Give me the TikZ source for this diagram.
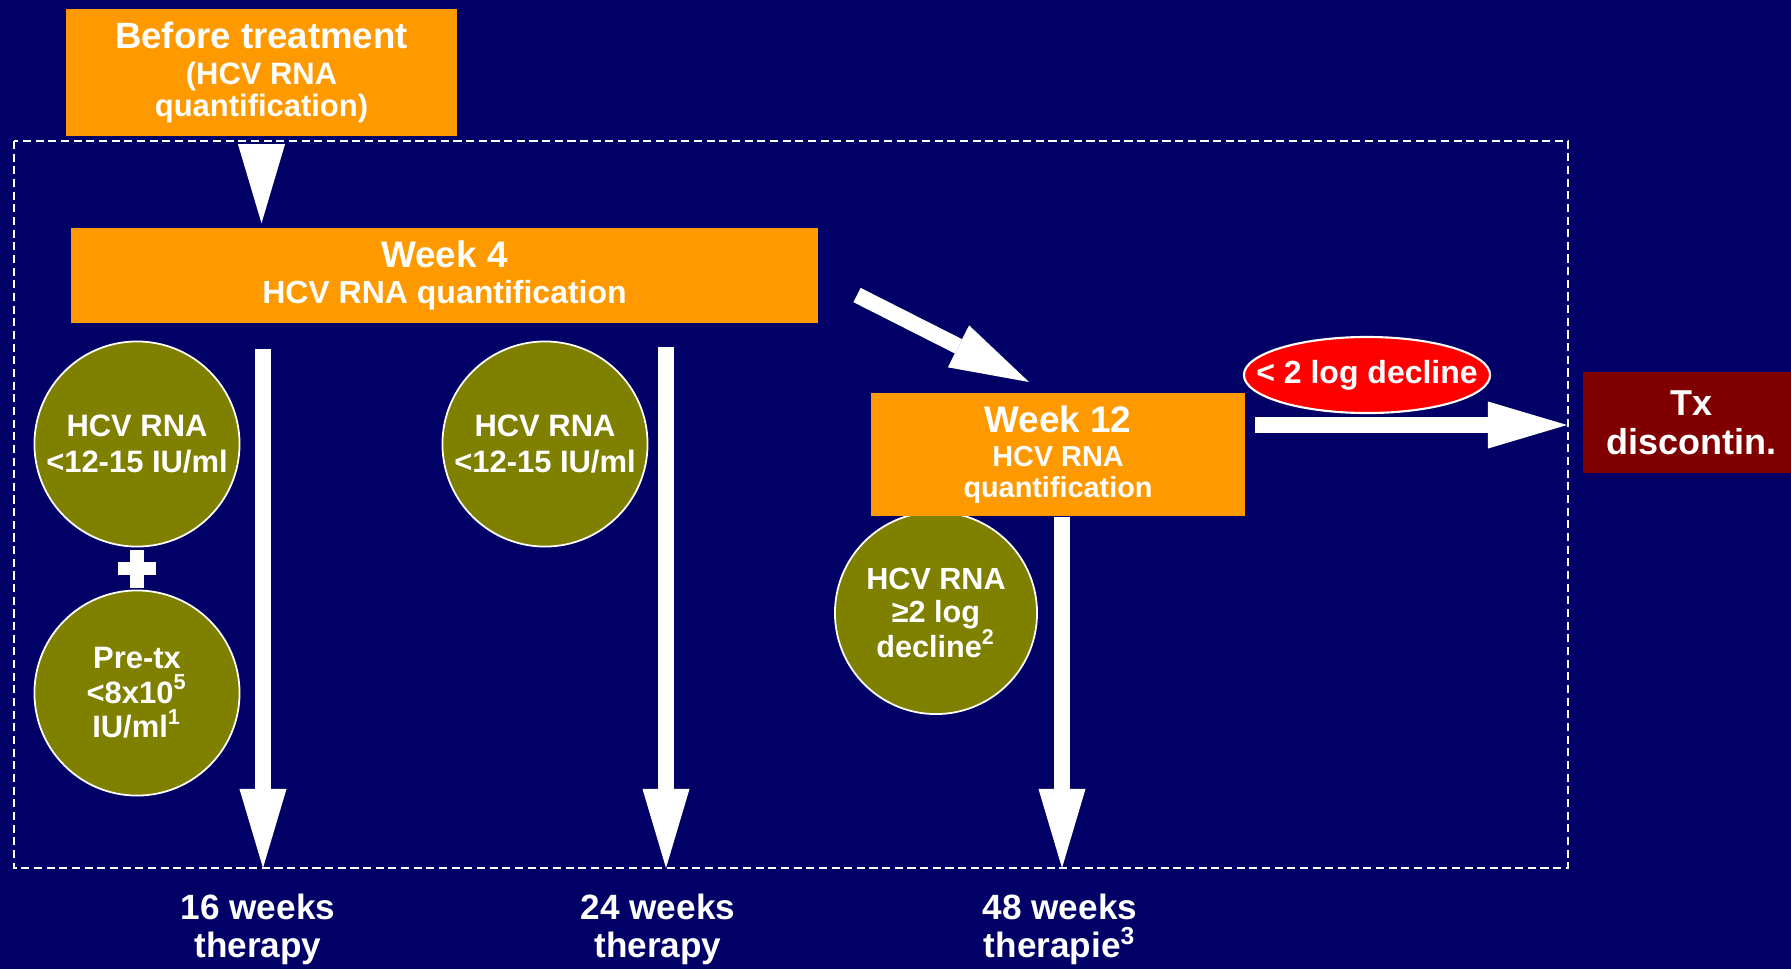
\documentclass[tikz,border=0pt]{standalone}
\usepackage{fontspec}
\setmainfont{Liberation Sans}
\usepackage{tikz}
\usetikzlibrary{arrows.meta, positioning, calc, shapes.geometric}

\definecolor{slidebg}{RGB}{0,0,102}
\definecolor{boxorange}{RGB}{255,153,0}
\definecolor{critolive}{RGB}{128,128,0}
\definecolor{declred}{RGB}{255,0,0}
\definecolor{stopred}{RGB}{128,0,0}

\newcommand{\fsz}[2]{\fontsize{#1}{#2}\selectfont}

\begin{document}
\begin{tikzpicture}[
  x=0.01cm, y=-0.01cm,
  % Node styles
  stage/.style   = {rectangle, fill=boxorange, text=white, align=center,
                    inner sep=0pt},
  crit/.style    = {circle, draw=white, line width=0.5pt, fill=critolive,
                    text=white, minimum size=2.05cm, align=center,
                    inner sep=0pt, font=\fsz{8.8pt}{10pt}\bfseries},
  decl/.style    = {ellipse, draw=white, line width=0.6pt, fill=declred,
                    text=white, minimum width=2.46cm, minimum height=0.76cm,
                    inner xsep=-0.25cm, inner ysep=0pt,
                    font=\fsz{9.1pt}{10pt}\bfseries},
  stopbox/.style = {rectangle, fill=stopred, text=white, align=center,
                    inner sep=0pt, font=\fsz{10.24pt}{11.1pt}\bfseries},
  outcome/.style = {text=white, align=center, inner sep=0pt, anchor=north,
                    font=\fsz{10pt}{10pt}\bfseries},
  % Arrow styles
  flow/.style    = {-{Triangle[length=0.79cm, width=0.47cm, line width=0pt]},
                    line width=0.16cm, white},
  plusbar/.style = {line width=0.13cm, white},
  frame/.style   = {white, line width=0.6pt, dash pattern=on 2.3pt off 1.3pt}
]

% =========================== BACKGROUND ===========================
\useasboundingbox (0,0) rectangle (1791,969);
\fill[slidebg] (0,0) rectangle (1791,969);
\draw[frame] (14,141) rectangle (1568,868);

% =========================== STAGES ===========================
\node[stage, minimum width=3.91cm, minimum height=1.27cm,
      font=\fsz{10.4pt}{10.24pt}\bfseries]
      (before) at (261.5,72.5)
      {Before treatment\\[0.2pt]{\fsz{8.8pt}{9pt}(HCV RNA}\\[-1.1pt]{\fsz{8.8pt}{9pt}quantification)}};
\node[stage, minimum width=7.47cm, minimum height=0.95cm,
      font=\fsz{10.5pt}{10pt}\bfseries]
      (w4) at (444.5,275.5)
      {Week 4\\[0.3pt]{\fsz{9.1pt}{10pt}HCV RNA quantification}};

% Criteria circles
\node[crit] (c1) at (137,444) {HCV RNA\\<12-15 IU/ml};
\node[crit, font=\fsz{8.8pt}{9.8pt}\bfseries]
      (c2) at (137,693) {Pre-tx\\<8x10\textsuperscript{5}\\IU/ml\textsuperscript{1}};
\node[crit] (c3) at (545,444) {HCV RNA\\<12-15 IU/ml};
\node[crit, minimum size=2.02cm, font=\fsz{8.7pt}{10.5pt}\bfseries]
      (c4) at (936,613) {HCV RNA\\[-1pt]≥2 log\\[-0.5pt]decline\textsuperscript{2}};

% "+" between the two left circles
\draw[plusbar, shorten <=0.03cm, shorten >=0.02cm] (c1.south) -- (c2.north);
\draw[plusbar] ($(c1.south)!0.5!(c2.north)+(-19,0)$) -- ++(38,0);

\node[stage, minimum width=3.74cm, minimum height=1.23cm,
      font=\fsz{10.5pt}{9.4pt}\bfseries]
      (w12) at (1058,454.5)
      {Week 12\\[0.4pt]{\fsz{8.2pt}{9pt}HCV RNA}\\[-0.6pt]{\fsz{8.2pt}{9pt}quantification}};

\node[decl] (dec) at (1367,375) {< 2 log decline};
\node[stopbox, minimum width=2.17cm, minimum height=1.01cm]
      (tx) at (1691.5,422.5) {Tx\\discontin.};

% =========================== OUTCOMES ===========================
\node[outcome] (t16) at (258,893)  {16 weeks\\[0.9pt]therapy};
\node[outcome] (t24) at (658,893)  {24 weeks\\[0.9pt]therapy};
\node[outcome] (t48) at (1060,893) {48 weeks\\[0.9pt]therapie\textsuperscript{3}};

% =========================== ARROWS ===========================
\coordinate (s16) at (263,349);
\coordinate (s24) at (666,347);
\coordinate (e16) at (263,868);
\coordinate (e24) at (666,868);
\coordinate (e48) at (1062,868);
\coordinate (d0)  at (857,295);
\coordinate (d1)  at (1029,382);
\coordinate (h0)  at (1255,425);
\coordinate (h1)  at (1567,425);

\draw[flow, shorten <=0.09cm, shorten >=0.04cm] (before.south) -- (before.south |- w4.north);
\draw[flow] (s16) -- (e16);
\draw[flow] (s24) -- (e24);
\draw[flow] (w12.south -| e48) -- (e48);
\draw[flow] (d0) -- (d1);
\draw[flow] (h0) -- (h1);

\end{tikzpicture}
\end{document}
